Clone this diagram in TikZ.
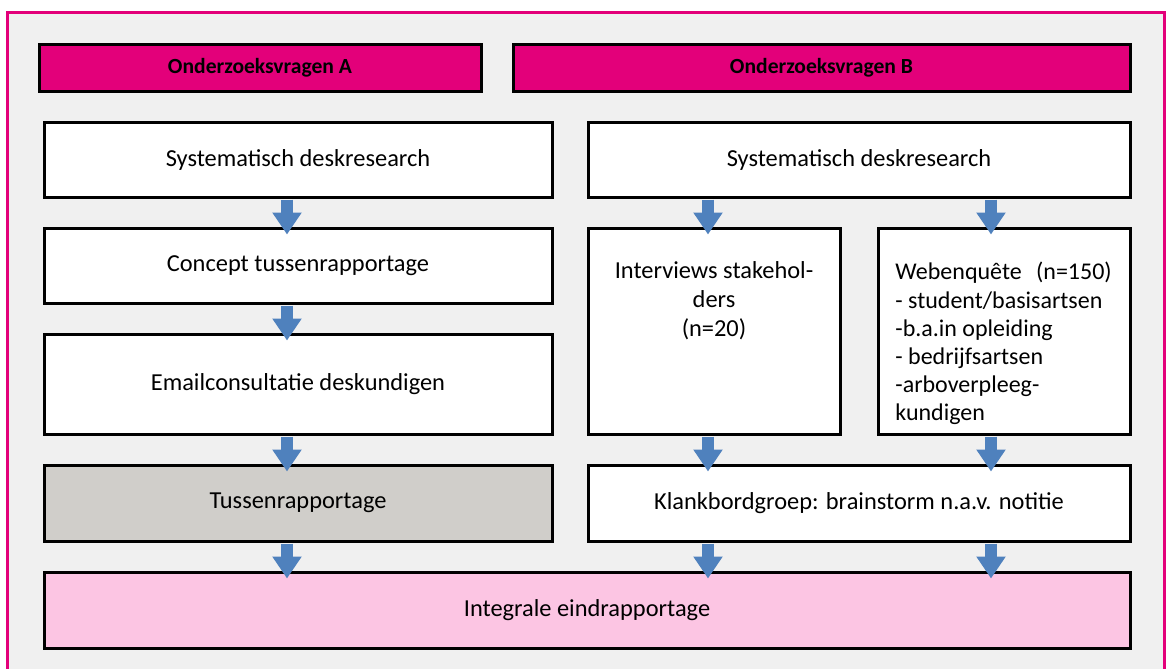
\documentclass[tikz,border=0pt]{standalone}
\usepackage{fontspec}
\setmainfont{Carlito}
\usetikzlibrary{arrows.meta}
\definecolor{roze}{HTML}{E3007A}
\definecolor{lichtroze}{HTML}{FCC5E3}
\definecolor{grijs}{HTML}{D0CECA}
\definecolor{achtergrond}{HTML}{F0F0F0}
\definecolor{pijlblauw}{HTML}{4F81BD}
\begin{document}
\begin{tikzpicture}[x=0.5pt,y=-0.5pt,font=\fontsize{12.2}{14.6}\selectfont,
  vak/.style={draw,line width=1.5pt,fill=white,inner sep=0pt,align=center},
  kop/.style={vak,fill=roze,font=\fontsize{10.8}{13}\selectfont\bfseries,minimum height=23.5pt},
  tekst/.style={inner sep=0pt,anchor=north},
  pijl/.style={pijlblauw,line width=6pt,shorten <=0.5pt,shorten >=-4pt,-{Triangle[width=14pt,length=11pt]}}]
\useasboundingbox (0,0) rectangle (1167,669);
\clip (0,0) rectangle (1167,669);
\draw[roze,line width=1.5pt,fill=achtergrond](7,12) rectangle (1164,700);
% koppen
\node[kop,minimum width=221pt](vrA) at (260,67.5){Onderzoeksvragen A};
\node[kop,minimum width=308.5pt](vrB) at (821.5,67.5){Onderzoeksvragen B};
% kolom A
\node[vak,minimum width=254pt,minimum height=37.5pt](deskA) at (298,159.5){Systematisch deskresearch};
\node[vak,minimum width=254pt,minimum height=37.5pt](concept) at (298,265.5){Concept tussenrapportage};
\node[vak,minimum width=254pt,minimum height=50pt](email) at (298,384){Emailconsultatie deskundigen};
\node[vak,fill=grijs,minimum width=254pt,minimum height=38pt](tussen) at (298,503){Tussenrapportage};
% kolom B
\node[vak,minimum width=271pt,minimum height=37.5pt](deskB) at (859,159.5){Systematisch deskresearch};
\node[vak,minimum width=126pt,minimum height=103pt](interviews) at (714,331){};
\node[tekst,align=center](tekstint) at (714,261){Interviews stakehol-\\ders\\(n=20)};
\node[vak,minimum width=126pt,minimum height=103pt](webenquete) at (1004,331){};
\node[tekst,align=left,anchor=north west,font=\fontsize{12}{14.1}\selectfont](tekstweb) at (895,262){Webenquête\hspace{0.6em}(n=150)\\- student/basisartsen\\-b.a.in opleiding\\- bedrijfsartsen\\-arboverpleeg-\\kundigen};
\node[vak,minimum width=271pt,minimum height=38pt](klankbord) at (859,503){Klankbordgroep: brainstorm n.a.v. notitie};
% eind
\node[vak,fill=lichtroze,minimum width=543pt,minimum height=38pt](eind) at (587,610){Integrale eindrapportage};
% pijlen
\coordinate(kolA) at (287,0);
\coordinate(kolB) at (708,0);
\coordinate(kolC) at (991,0);
\draw[pijl](deskA.south-|kolA)--(concept.north-|kolA);
\draw[pijl](concept.south-|kolA)--(email.north-|kolA);
\draw[pijl](email.south-|kolA)--(tussen.north-|kolA);
\draw[pijl](tussen.south-|kolA)--(eind.north-|kolA);
\draw[pijl](deskB.south-|kolB)--(interviews.north-|kolB);
\draw[pijl](deskB.south-|kolC)--(webenquete.north-|kolC);
\draw[pijl](interviews.south-|kolB)--(klankbord.north-|kolB);
\draw[pijl](webenquete.south-|kolC)--(klankbord.north-|kolC);
\draw[pijl](klankbord.south-|kolB)--(eind.north-|kolB);
\draw[pijl](klankbord.south-|kolC)--(eind.north-|kolC);
\end{tikzpicture}
\end{document}
